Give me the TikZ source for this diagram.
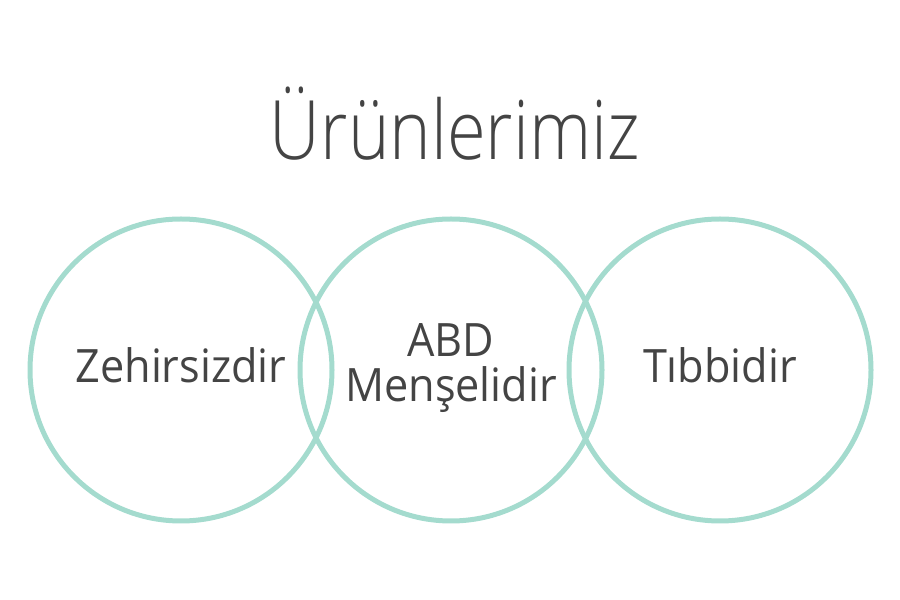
\documentclass[tikz,border=0pt]{standalone}
\usepackage{fontspec}
\setmainfont{Open Sans}[FakeStretch=0.94]
\newfontfamily\lightfont{Open Sans Light}[FakeStretch=0.86]
\usepackage{xcolor}
\usetikzlibrary{positioning}
\definecolor{ringgreen}{RGB}{164,219,206}
\definecolor{ink}{RGB}{68,68,68}

\begin{document}
\begin{tikzpicture}[
  x=1pt, y=1pt,
  ring/.style={circle, draw=ringgreen, line width=5pt,
               minimum size=302pt, inner sep=0pt},
  word/.style={font=\fontsize{46}{45}\selectfont, text=ink, align=center}]
\useasboundingbox (0,0) rectangle (900,600);
\node[ring] (zeh) at (181,230) {};
\node[ring] (abd) at (451,230) {};
\node[ring] (tib) at (720,230) {};
\node[anchor=base, text=ink, font=\lightfont\fontsize{82}{82}\selectfont]
  (title) at (455,440) {Ürünlerimiz};
\node[word, anchor=base] (zehtext) at ([yshift=-13pt]zeh.center) {Zehirsizdir};
\node[word] (abdtext) at ([yshift=2pt]abd.center) {ABD\\Menşelidir};
\node[word, anchor=base] (tibtext) at ([yshift=-13pt]tib.center) {Tıbbidir};
\end{tikzpicture}
\end{document}
